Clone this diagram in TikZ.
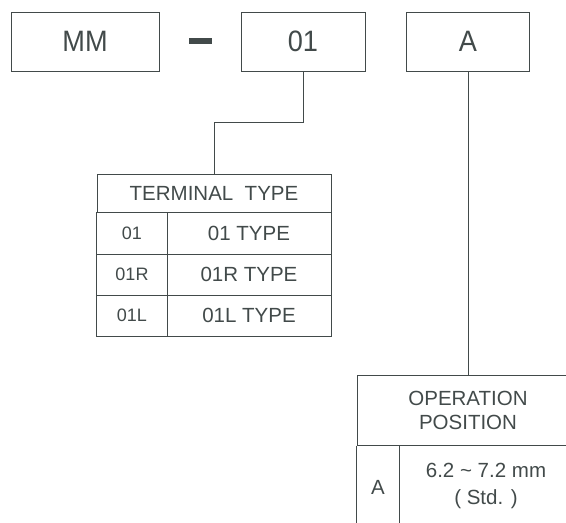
\documentclass[tikz,border=0pt]{standalone}
\usepackage{fontspec}
\setmainfont{Liberation Sans}
\newfontfamily\codefont[FakeStretch=0.92]{Liberation Sans}
\usepackage{tikz}

\definecolor{ink}{RGB}{66,74,74}

\tikzset{
  codebox/.style={draw=ink, line width=1pt, text=ink, font=\codefont\fontsize{29.5}{29.5}\selectfont,
    minimum height=59pt, inner sep=0pt},
  headbox/.style={draw=ink, line width=1pt, text=ink, font=\fontsize{20.5}{24}\selectfont,
    inner sep=0pt, align=center},
  cell/.style={text=ink, font=\fontsize{20.5}{27}\selectfont, inner sep=0pt, align=center},
  smallcell/.style={cell, font=\fontsize{18}{18}\selectfont},
  rule/.style={draw=ink, line width=1pt},
  link/.style={draw=ink, line width=0.8pt}
}

\begin{document}
\begin{tikzpicture}[x=1pt,y=-1pt]
	\useasboundingbox (0,0) rectangle (566,523);
	\clip (0,0) rectangle (566,523);

	% model code
	\node[codebox, minimum width=148pt] (mm) at (85,41.5) {MM};
	\node[fill=ink, minimum width=23pt, minimum height=6pt, inner sep=0pt] (dash) at (200.5,41) {};
	\node[codebox, minimum width=124pt] (n01) at (303,41.5) {01};
	\node[codebox, minimum width=123pt] (nA) at (468,41.5) {A};

	% terminal type
	\node[headbox, minimum width=234pt, minimum height=38pt] (termhead) at (214,193) {TERMINAL\ \ TYPE};
	\draw[rule] (termhead.south west) rectangle (331,336);
	\foreach \y in {254,295}
		\draw[rule] (97,\y) -- (331,\y);
	\draw[rule] (167,212) -- (167,336);
	\foreach \code/\y in {01/233,01R/274,01L/315}{
		\node[smallcell] (k\code) at (132,\y) {\code};
		\node[cell] (t\code) at (249,\y) {\code\ TYPE};
	}

	% operation position
	\node[headbox, minimum width=222pt, minimum height=70pt] (ophead) at (468,410) {OPERATION\\POSITION};
	\draw[rule] (ophead.south west) -- ++(0,90);
	\draw[rule] (399,445) -- (399,535);
	\node[cell] (opA) at (378,487) {A};
	\node[cell] (opval) at (486,486) {6.2 \textasciitilde{} 7.2 mm\\( Std. )};

	% connectors
	\draw[link] (n01.south) -- ++(0,51) -| (termhead.north);
	\draw[link] (nA.south) -- (ophead.north);
\end{tikzpicture}
\end{document}
